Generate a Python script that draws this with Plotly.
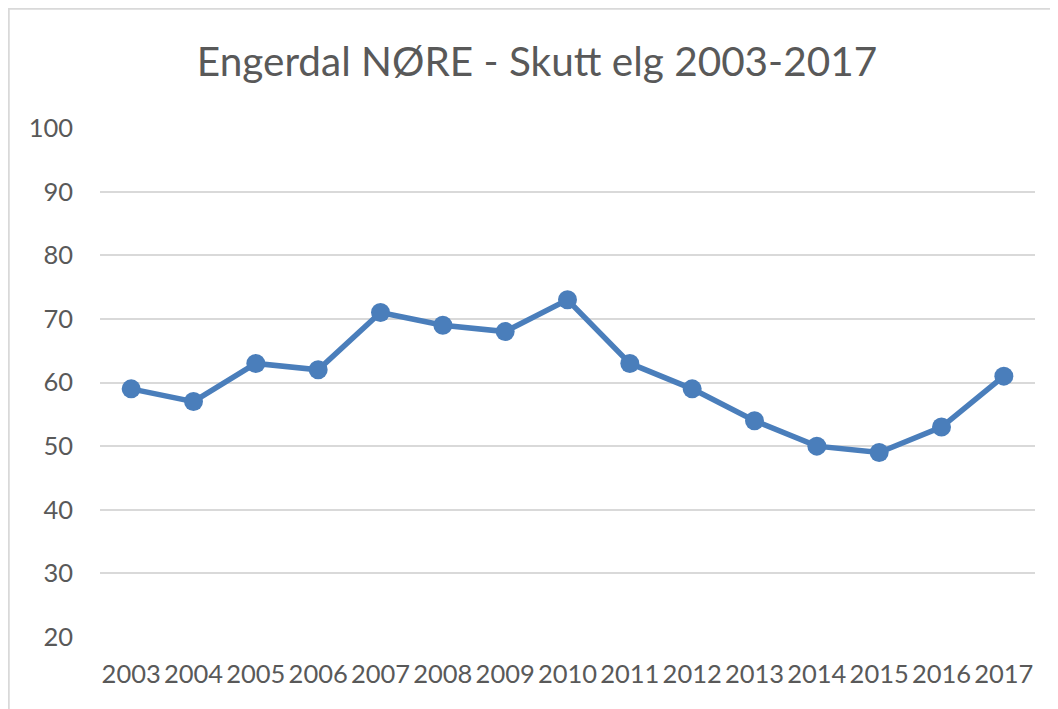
import plotly.graph_objects as go

years = ["2003", "2004", "2005", "2006", "2007", "2008", "2009", "2010",
         "2011", "2012", "2013", "2014", "2015", "2016", "2017"]
values = [59, 57, 63, 62, 71, 69, 68, 73, 63, 59, 54, 50, 49, 53, 61]
y_ticks = [20, 30, 40, 50, 60, 70, 80, 90, 100]
title_text = "Engerdal NØRE - Skutt elg 2003-2017"

# page has an 8px body margin, so the figure is sized/offset accordingly
W, H = 1050, 701
L, R, T, B = 92, 23, 120, 72
PW, PH = W - L - R, H - T - B

fig = go.Figure()
fig.add_trace(go.Scatter(
    x=years, y=values, mode="lines+markers",
    line=dict(color="#4A7EBB", width=5.5),
    marker=dict(color="#4A7EBB", size=19),
    showlegend=False, cliponaxis=False,
))

font_fam = "Lato, Carlito, 'Liberation Sans', sans-serif"

fig.update_layout(
    width=W, height=H,
    margin=dict(l=L, r=R, t=T, b=B, autoexpand=False),
    paper_bgcolor="white", plot_bgcolor="white",
    title=dict(text=title_text, x=529 / W, xref="container", xanchor="center",
               y=1 - 54 / H, yref="container", yanchor="middle",
               font=dict(family=font_fam, size=40.5, color="#595959")),
    font=dict(family=font_fam, color="#595959"),
    xaxis=dict(type="category", showgrid=False, showline=False, zeroline=False,
               ticks="", tickfont=dict(size=25.5, color="#595959"),
               ticklabelstandoff=19, range=[-0.5, len(years) - 0.5]),
    yaxis=dict(range=[20, 100], tickvals=y_ticks, showgrid=True,
               gridcolor="#D9D9D9", gridwidth=1.5, zeroline=False, showline=False,
               ticks="", tickfont=dict(size=25.5, color="#595959"),
               ticklabelstandoff=26),
    shapes=[
        dict(type="line", xref="paper", yref="paper",
             x0=-L / PW, x1=(W - L) / PW,
             y0=1 + (T - 0.5) / PH, y1=1 + (T - 0.5) / PH,
             line=dict(color="#D9D9D9", width=2.5)),
        dict(type="line", xref="paper", yref="paper",
             x0=-(L - 0.5) / PW, x1=-(L - 0.5) / PW,
             y0=1 + T / PH, y1=-B / PH,
             line=dict(color="#D9D9D9", width=2.5)),
    ],
)

fig.write_html("out.html")
